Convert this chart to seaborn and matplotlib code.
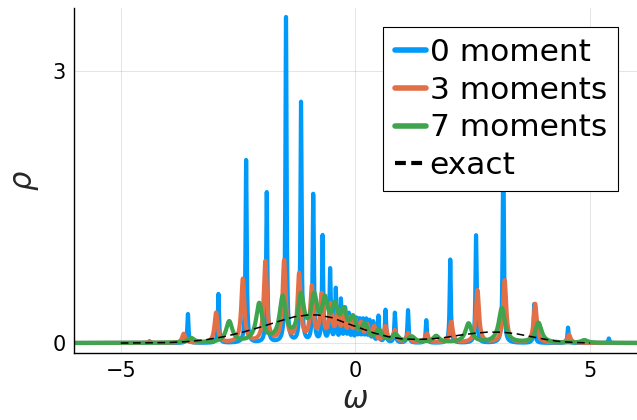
import numpy as np
import pandas as pd
import matplotlib
matplotlib.use("Agg")
import matplotlib.pyplot as plt
import seaborn as sns

# picos (posicao, altura) para cada serie
c0 = [-4.39, -3.57, -2.92, -2.33, -1.89, -1.48, -1.16, -0.90, -0.70, -0.54, -0.42, -0.31,
      -0.22, -0.14, -0.06, 0.02, 0.09, 0.16, 0.23, 0.30, 0.38, 0.49, 0.64, 0.84, 1.12,
      1.51, 2.02, 2.57, 3.15, 3.81, 4.53, 5.40]
h0 = [0.02, 0.32, 0.54, 2.02, 1.66, 3.59, 2.65, 1.63, 1.17, 0.80, 0.58, 0.46,
      0.36, 0.30, 0.26, 0.25, 0.24, 0.24, 0.24, 0.23, 0.22, 0.29, 0.36, 0.33, 0.36,
      0.25, 0.92, 1.19, 2.20, 0.43, 0.17, 0.05]
c3 = [-4.40, -3.66, -2.97, -2.40, -1.92, -1.52, -1.20, -0.93, -0.72, -0.53, -0.38, -0.25,
      -0.12, 0.00, 0.12, 0.25, 0.40, 0.64, 0.84, 1.12, 1.52, 2.04, 2.60, 3.18, 3.83, 4.55]
h3 = [0.01, 0.10, 0.33, 0.70, 0.89, 0.89, 0.74, 0.59, 0.50, 0.38, 0.30, 0.25,
      0.22, 0.20, 0.18, 0.17, 0.16, 0.17, 0.13, 0.10, 0.10, 0.23, 0.58, 0.69, 0.43, 0.09]
c7 = [-3.50, -2.69, -2.05, -1.55, -1.16, -0.88, -0.65, -0.44, -0.25, -0.05, 0.20, 0.50,
      0.85, 1.20, 1.72, 2.41, 3.12, 3.90, 4.88]
h7 = [0.05, 0.23, 0.42, 0.48, 0.48, 0.45, 0.40, 0.33, 0.28, 0.22, 0.17, 0.12,
      0.08, 0.06, 0.07, 0.21, 0.38, 0.22, 0.03]
larguras = [0.015, 0.04, 0.08]  # alargamento de cada serie

# curva exata lida ponto a ponto
w_exato = [-5.0, -4.5, -4.0, -3.6, -3.2, -2.8, -2.4, -2.0, -1.6, -1.3, -1.0, -0.8, -0.5,
           -0.2, 0.1, 0.4, 0.7, 1.0, 1.3, 1.6, 1.9, 2.2, 2.5, 2.8, 3.1, 3.4, 3.7, 4.0,
           4.3, 4.6, 5.0]
rho_exato = [0.0, 0.002, 0.005, 0.015, 0.035, 0.07, 0.12, 0.18, 0.245, 0.29, 0.31, 0.31, 0.28,
             0.22, 0.165, 0.11, 0.07, 0.045, 0.04, 0.045, 0.06, 0.085, 0.105, 0.12, 0.12, 0.105,
             0.075, 0.045, 0.02, 0.008, 0.0]

nomes = ["0 moment", "3 moments", "7 moments"]
cores = ["#009AFA", "#E36F47", "#3EA44E"]

w = np.linspace(-6, 6, 8000)


def espectro(centros, alturas, gama):
    rho = np.zeros_like(w)
    for c, h in zip(centros, alturas):
        rho += h * gama**2 / ((w - c) ** 2 + gama**2)
    return rho


sns.set_theme(style="white")
plt.rcParams["font.family"] = ["DejaVu Sans"]
plt.rcParams["mathtext.fontset"] = "dejavusans"
plt.rcParams["text.color"] = "black"

fig = plt.figure(figsize=(6.37, 4.2), dpi=100)
ax = fig.add_axes([0.116, 0.160, 0.884, 0.821])

for (cs, hs), g, nome, cor in zip([(c0, h0), (c3, h3), (c7, h7)], larguras, nomes, cores):
    df = pd.DataFrame({"w": w, "rho": espectro(cs, hs, g)})
    sns.lineplot(data=df, x="w", y="rho", color=cor, lw=3, label=nome, ax=ax)

sns.lineplot(x=w_exato, y=rho_exato, color="black", lw=1.1, ax=ax, label="exact")
ax.lines[-1].set_dashes([5, 3])

ax.set_xlim(-6, 6)
ax.set_ylim(-0.108, 3.70)
ax.set_xticks([-5, 0, 5])
ax.set_yticks([0, 3])
ax.set_xticklabels(["\u22125", "0", "5"])
ax.tick_params(direction="in", length=5, width=1, labelsize=15, colors="black", pad=6)
ax.grid(True, color="black", alpha=0.1, lw=0.8)
for lado in ["top", "right"]:
    ax.spines[lado].set_visible(False)
for lado in ["left", "bottom"]:
    ax.spines[lado].set_color("black")
    ax.spines[lado].set_linewidth(1)
ax.set_xlabel(r"$\omega$", fontsize=22, labelpad=3)
ax.set_ylabel(r"$\rho$", fontsize=22, labelpad=8)

leg = ax.legend(loc="upper right", fontsize=22.5, frameon=True, fancybox=False,
                edgecolor="black", framealpha=1, handlelength=1.0, handletextpad=0.12,
                labelspacing=0.28, borderpad=0.36, borderaxespad=0.6)
leg.get_frame().set_linewidth(0.8)
for linha in leg.get_lines()[:3]:
    linha.set_linewidth(4)
leg.get_lines()[3].set_linewidth(3)
leg.get_lines()[3].set_dashes([2.6, 1.3])
for t in leg.get_texts():
    t.set_color("black")

fig.savefig("out.png", dpi=100)
